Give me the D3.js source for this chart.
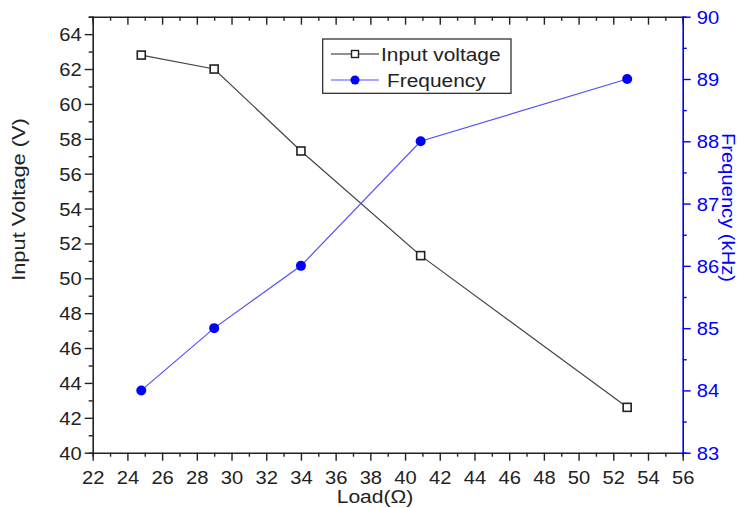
<!DOCTYPE html>
<html><head><meta charset="utf-8">
<script src="https://cdn.jsdelivr.net/npm/d3@7"></script>
<style>body{margin:0;background:#fff}text{font-family:"Liberation Sans",Arial,sans-serif}</style>
</head><body><svg id="c" width="739" height="508"></svg>
<script>
const load = [24.8, 29, 34, 40.9, 52.8];
const inputVoltage = [62.8, 62.0, 57.3, 51.3, 42.6];
const frequency = [84, 85, 86, 88, 89];
const xTicks = [22,24,26,28,30,32,34,36,38,40,42,44,46,48,50,52,54,56];
const yLeftTicks = [40,42,44,46,48,50,52,54,56,58,60,62,64];
const yRightTicks = [83,84,85,86,87,88,89,90];

const svg = d3.select("#c");
const L=92.7, R=682.7, T=16.7, B=452.7;
const x = d3.scaleLinear().domain([22,56]).range([L,R]);
const yL = d3.scaleLinear().domain([40,65]).range([B,T]);
const yR = d3.scaleLinear().domain([83,90]).range([B,T]);
const dark="#222", blue="#0000ff";
const FS=18, SX=1.12;

// bottom axis
const gB = svg.append("g").attr("transform",`translate(0,${B})`);
gB.call(d3.axisBottom(x).tickValues(d3.range(22,57,1)).tickSize(4).tickFormat(""));
gB.call(g=>g.selectAll(".tick").filter(d=>d%2===0).select("line").attr("y2",8));
gB.selectAll(".tick").filter(d=>xTicks.includes(d)).append("text").attr("y",31).attr("fill",dark)
  .attr("transform",`scale(${SX},1)`).attr("text-anchor","middle").style("font-size",FS+"px").text(d=>d);
// top axis
const gT = svg.append("g").attr("transform",`translate(0,${T})`);
gT.call(d3.axisBottom(x).tickValues(d3.range(22,57,1)).tickSize(4).tickFormat(""));
gT.call(g=>g.selectAll(".tick").filter(d=>d%2===0).select("line").attr("y2",8));
// left axis
const gLft = svg.append("g").attr("transform",`translate(${L},0)`);
gLft.call(d3.axisLeft(yL).tickValues(d3.range(40,66,1)).tickSize(4).tickFormat(""));
gLft.call(g=>g.selectAll(".tick").filter(d=>d%2===0).select("line").attr("x2",-8));
gLft.selectAll(".tick").filter(d=>yLeftTicks.includes(d)).append("text").attr("x",-11/SX).attr("dy","0.36em")
  .attr("transform",`scale(${SX},1)`).attr("fill",dark).attr("text-anchor","end").style("font-size",FS+"px").text(d=>d);
// right axis
const gRt = svg.append("g").attr("transform",`translate(${R},0)`);
gRt.call(d3.axisRight(yR).tickValues(d3.range(83,90.01,0.5)).tickSize(4).tickFormat(""));
gRt.call(g=>g.selectAll(".tick").filter(d=>Number.isInteger(d)).select("line").attr("x2",8));
gRt.selectAll(".tick").filter(d=>yRightTicks.includes(d)).append("text").attr("x",14/SX).attr("dy","0.36em")
  .attr("transform",`scale(${SX},1)`).attr("fill",blue).attr("text-anchor","start").style("font-size",FS+"px").text(d=>d);

[gB,gT,gLft].forEach(g=>{g.select(".domain").attr("stroke",dark).attr("stroke-width",1.6);g.selectAll(".tick line").attr("stroke",dark).attr("stroke-width",1.4);});
gRt.select(".domain").attr("stroke",blue).attr("stroke-width",1.6);
gRt.selectAll(".tick line").attr("stroke",blue).attr("stroke-width",1.4);

// axis titles
function label(tx,ty,rot,sx,fs,fill,anchor,txt){
  svg.append("text").attr("transform",`translate(${tx},${ty}) rotate(${rot}) scale(${sx},1)`)
    .attr("text-anchor",anchor).attr("fill",fill).style("font-size",fs+"px").text(txt);
}
label(25,199.5,-90,1.15,19,dark,"middle","Input Voltage (V)");
label(722,207.5,90,1.09,18.5,blue,"middle","Frequency (kHz)");
label(375,502.5,0,1.14,18.5,dark,"middle","Load(Ω)");

// series
const vData = load.map((l,i)=>({x:l,y:inputVoltage[i]}));
const fData = load.map((l,i)=>({x:l,y:frequency[i]}));
svg.append("path").datum(vData).attr("fill","none").attr("stroke","#444").attr("stroke-width",1.2)
  .attr("d",d3.line().x(d=>x(d.x)).y(d=>yL(d.y)));
svg.append("path").datum(fData).attr("fill","none").attr("stroke","#5050ff").attr("stroke-width",1.2)
  .attr("d",d3.line().x(d=>x(d.x)).y(d=>yR(d.y)));
svg.selectAll(".sq").data(vData).enter().append("rect")
  .attr("x",d=>x(d.x)-4).attr("y",d=>yL(d.y)-4).attr("width",8).attr("height",8)
  .attr("fill","#fff").attr("stroke","#222").attr("stroke-width",1.6);
svg.selectAll(".ci").data(fData).enter().append("circle")
  .attr("cx",d=>x(d.x)).attr("cy",d=>yR(d.y)).attr("r",5).attr("fill",blue);

// legend
const lg = svg.append("g");
lg.append("rect").attr("x",322.7).attr("y",39).attr("width",188.3).attr("height",54.3)
  .attr("fill","#fff").attr("stroke",dark).attr("stroke-width",1.2);
lg.append("line").attr("x1",331).attr("x2",379).attr("y1",54).attr("y2",54).attr("stroke","#222").attr("stroke-width",1.2);
lg.append("rect").attr("x",351.5).attr("y",50.5).attr("width",7).attr("height",7).attr("fill","#fff").attr("stroke","#222").attr("stroke-width",1.4);
lg.append("text").attr("transform","translate(381,54) scale(1.13,1)").attr("dy","0.36em").attr("fill",dark).style("font-size","18.5px").text("Input voltage");
lg.append("line").attr("x1",331).attr("x2",379).attr("y1",80).attr("y2",80).attr("stroke","#5050ff").attr("stroke-width",1.2);
lg.append("circle").attr("cx",355).attr("cy",80).attr("r",4.5).attr("fill",blue);
lg.append("text").attr("transform","translate(387,80) scale(1.13,1)").attr("dy","0.36em").attr("fill",dark).style("font-size","18.5px").text("Frequency");
</script></body></html>
